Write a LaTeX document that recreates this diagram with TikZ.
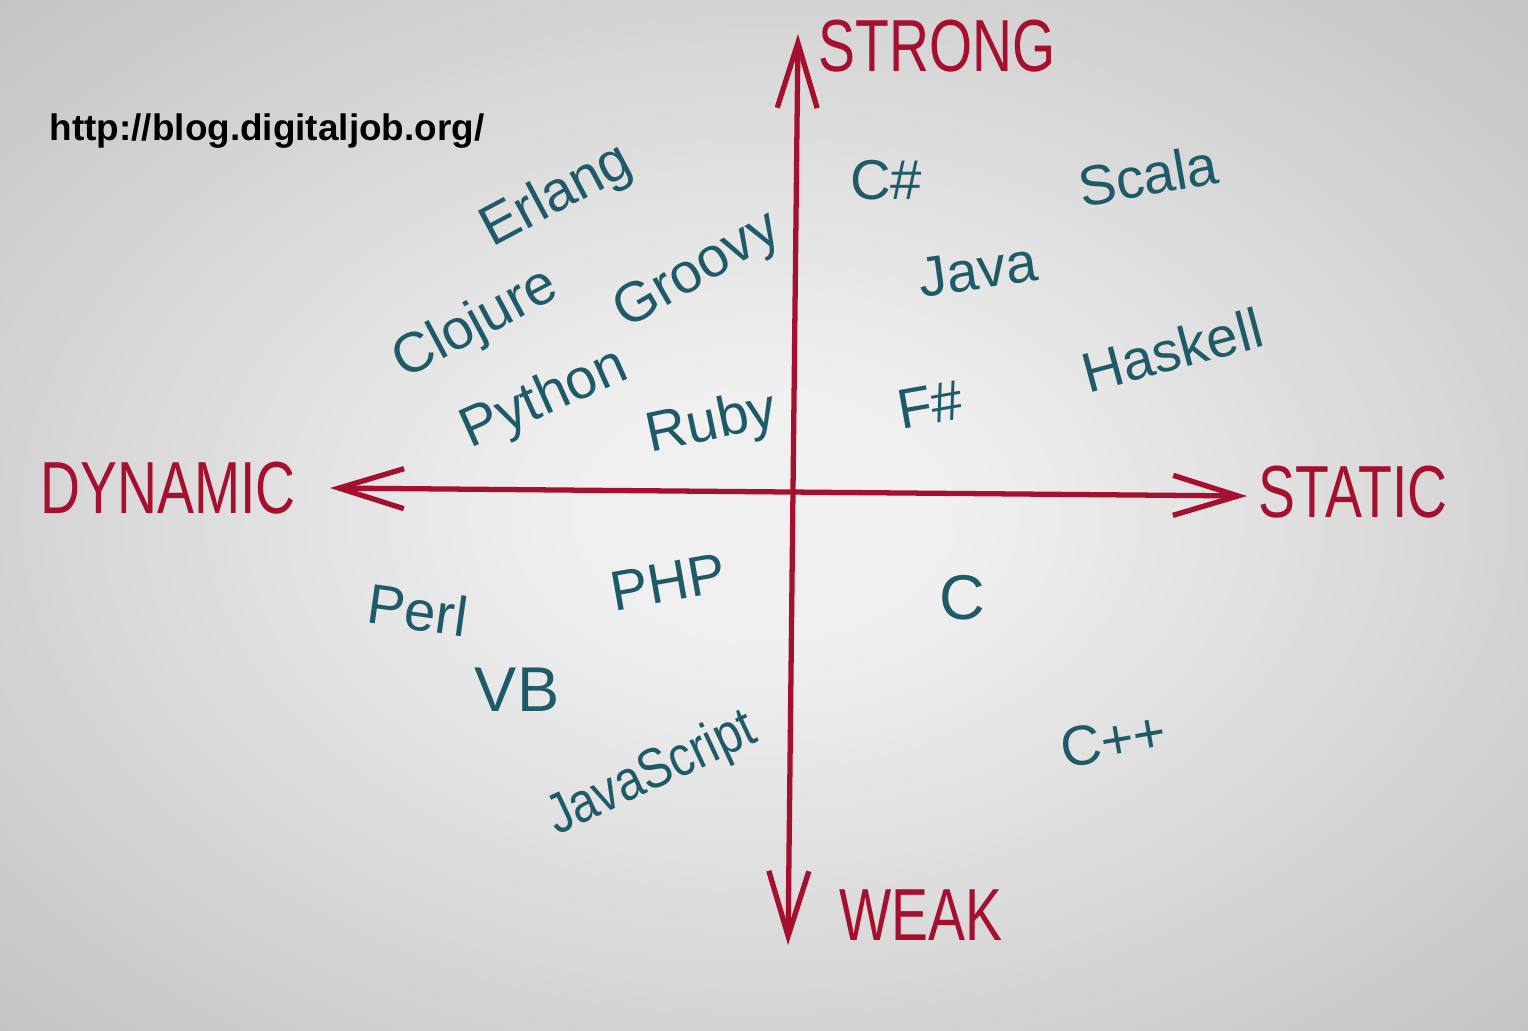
\documentclass[tikz,border=0pt]{standalone}
\usepackage{fontspec}
\setmainfont{Liberation Sans}
\usepackage{tikz}
\usetikzlibrary{arrows.meta, positioning}

\definecolor{axisred}{HTML}{A5102E}
\definecolor{langteal}{HTML}{1F5A68}
\definecolor{bgin}{HTML}{F0F0F0}
\definecolor{bgmid}{HTML}{AEAEAE}
\definecolor{bgout}{HTML}{929292}
\pgfdeclareradialshading{board}{\pgfpoint{0bp}{0bp}}{color(0bp)=(bgin); color(6bp)=(bgin); color(50bp)=(bgmid); color(72bp)=(bgout)}

\begin{document}
\begin{tikzpicture}[thick,
    >={Straight Barb[length=6.5mm,width=4mm]},
    axis/.style={draw=axisred, line width=1.5pt, line cap=round, line join=round, <->},
    pole/.style={text=axisred, font=\fontsize{21}{24}\selectfont, xscale=0.75, inner sep=0pt},
    lang/.style={text=langteal, font=\fontsize{16}{19}\selectfont, inner sep=0pt}]

        % ===================================================
        % 1. BOARD
        % ===================================================
        \useasboundingbox (0,0) rectangle (15.28,10.30);
        \shade[shading=board] (0,0) rectangle (15.28,10.30);

        \node[font=\bfseries\fontsize{10.5}{12}\selectfont, inner sep=0pt] (site) at (2.67, 8.99) {http://blog.digitaljob.org/};

        % ===================================================
        % 2. AXES
        % ===================================================
        \coordinate (weak) at (7.88, 0.85);
        \coordinate (strong) at (7.98, 9.96);
        \coordinate (dynamic) at (3.30, 5.42);
        \coordinate (static) at (12.47, 5.34);

        \draw[axis] (weak) -- (strong);
        \draw[axis] (dynamic) -- (static);

        \node[pole] (lStrong) at (9.37, 9.84) {STRONG};
        \node[pole] (lWeak) at (9.21, 1.15) {WEAK};
        \node[pole] (lDynamic) at (1.68, 5.42) {DYNAMIC};
        \node[pole] (lStatic) at (13.53, 5.38) {STATIC};

        % ===================================================
        % 3. DYNAMIC / STRONG (top left)
        % ===================================================
        \node[lang, rotate=28] (erlang) at (5.57, 8.33) {Erlang};
        \node[lang, rotate=28] (clojure) at (4.76, 7.05) {Clojure};
        \node[lang, rotate=30] (groovy) at (6.98, 7.58) {Groovy};
        \node[lang, rotate=24] (python) at (5.45, 6.30) {Python};
        \node[lang, rotate=12] (ruby) at (7.12, 6.05) {Ruby};

        % ===================================================
        % 4. STATIC / STRONG (top right)
        % ===================================================
        \node[lang] (csharp) at (8.86, 8.50) {C\#};
        \node[lang, rotate=10] (scala) at (11.48, 8.55) {Scala};
        \node[lang, rotate=8] (java) at (9.78, 7.60) {Java};
        \node[lang, rotate=15] (haskell) at (11.72, 6.80) {Haskell};
        \node[lang, rotate=10] (fsharp) at (9.30, 6.25) {F\#};

        % ===================================================
        % 5. DYNAMIC / WEAK (bottom left)
        % ===================================================
        \node[lang, rotate=-8] (perl) at (4.18, 4.20) {Perl};
        \node[lang, rotate=10] (php) at (6.68, 4.48) {PHP};
        \node[lang, font=\fontsize{18}{21}\selectfont] (vb) at (5.17, 3.40) {VB};
        \node[lang, rotate=25, xscale=0.85] (javascript) at (6.52, 2.55) {JavaScript};

        % ===================================================
        % 6. STATIC / WEAK (bottom right)
        % ===================================================
        \node[lang, font=\fontsize{18}{21}\selectfont] (c) at (9.62, 4.32) {C};
        \node[lang, rotate=10] (cpp) at (11.13, 2.90) {C++};

    \end{tikzpicture}
\end{document}
